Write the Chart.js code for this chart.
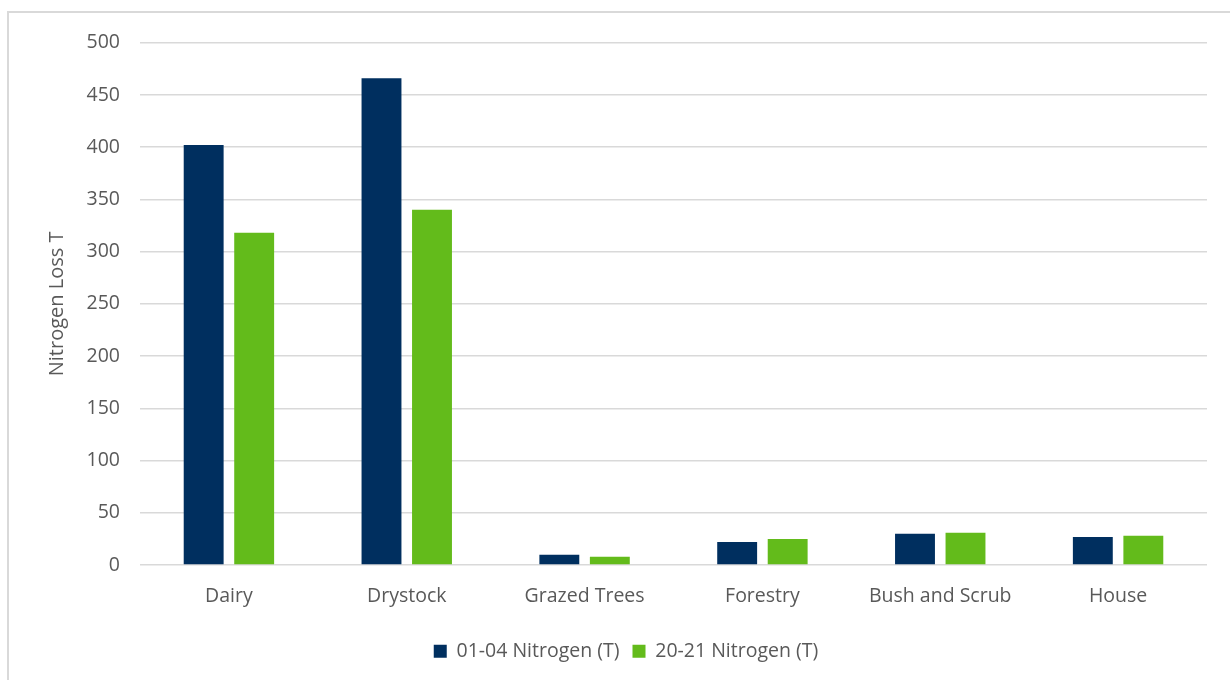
<!DOCTYPE html>
<html>
<head>
<meta charset="utf-8">
<script src="https://cdn.jsdelivr.net/npm/chart.js@4"></script>
<style>
  body { margin: 0; background: #fff; }
  #frame {
    position: absolute; left: 7px; top: 11px;
    width: 1240px; height: 690px;
    border: 2px solid #d9d9d9; box-sizing: border-box;
  }
  #wrap { position: absolute; left: 7px; top: 11px; width: 1230px; height: 669px; }
</style>
</head>
<body>
<div id="frame"></div>
<div id="wrap"><canvas id="myChart"></canvas></div>
<script>
'use strict'

var categories = ['Dairy', 'Drystock', 'Grazed Trees', 'Forestry', 'Bush and Scrub', 'House'];
var nitrogen0104 = [402, 466, 10, 22, 30, 27];
var nitrogen2021 = [318, 340, 8, 25, 31, 28];

var textColor = '#595959';
var fontFamily = "'Open Sans', 'Noto Sans', sans-serif";

Chart.defaults.font.family = fontFamily;
Chart.defaults.color = textColor;

var ctx = document.getElementById('myChart');

var chart = new Chart(ctx, {
  type: 'bar',
  data: {
    labels: categories,
    datasets: [{
      label: '01-04 Nitrogen (T)',
      backgroundColor: '#002f5f',
      data: nitrogen0104
    },
    {
      label: '20-21 Nitrogen (T)',
      backgroundColor: '#63bb1b',
      data: nitrogen2021
    }]
  },
  options: {
    responsive: true,
    maintainAspectRatio: false,
    animation: false,
    datasets: {
      bar: { categoryPercentage: 0.568, barPercentage: 0.79 }
    },
    layout: { padding: { top: 22, right: 30, left: 38, bottom: 9 } },
    plugins: {
      tooltip: { enabled: false },
      legend: {
        position: 'bottom',
        labels: {
          boxWidth: 13, boxHeight: 13, padding: 13,
          font: { size: 19.5 }, color: textColor
        }
      }
    },
    scales: {
      x: {
        grid: { display: false, drawTicks: false },
        border: { display: false },
        ticks: { font: { size: 19.5 }, color: textColor, padding: 20 }
      },
      y: {
        min: 0, max: 500,
        afterFit: function(scale) { scale.width = 95; },
        ticks: { stepSize: 50, font: { size: 19.5 }, color: textColor, padding: 20 },
        grid: { color: '#d9d9d9', lineWidth: 1.5, drawTicks: false },
        border: { display: false },
        title: { display: true, text: 'Nitrogen Loss T', font: { size: 20 }, color: textColor, padding: 0 }
      }
    }
  }
});
</script>
</body>
</html>
